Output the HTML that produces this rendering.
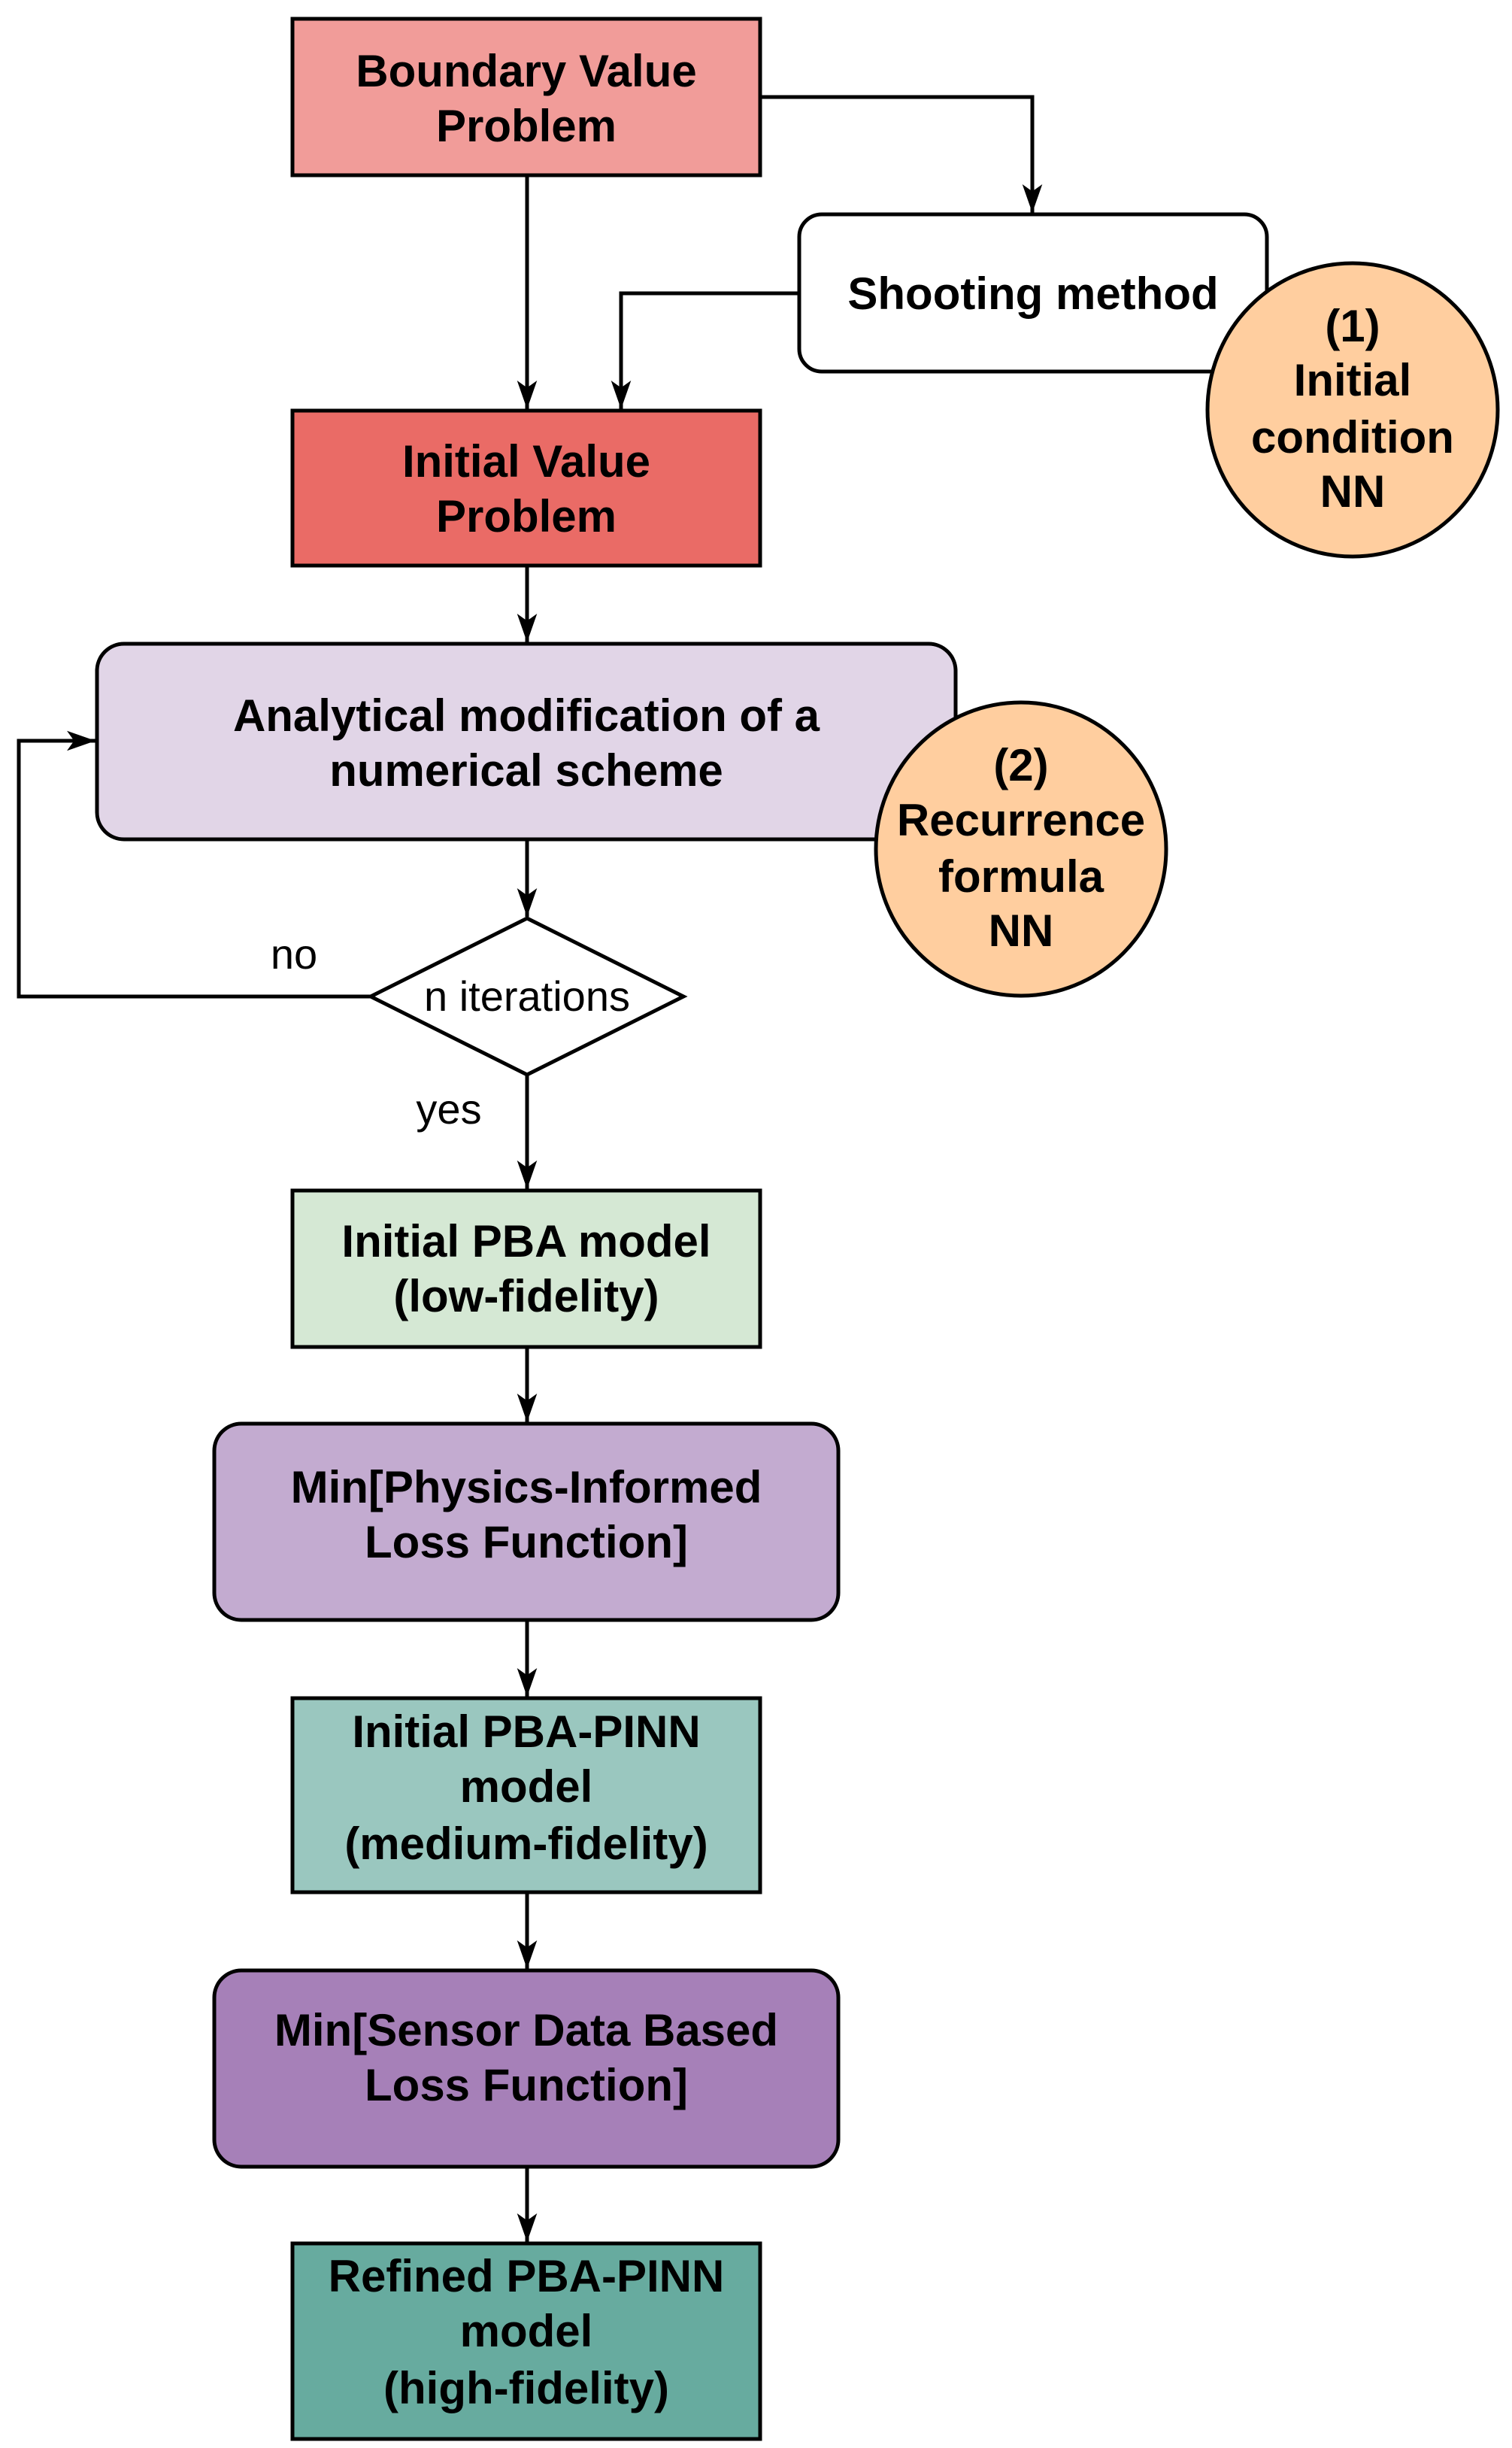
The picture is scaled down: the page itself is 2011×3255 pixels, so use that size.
<!DOCTYPE html>
<html><head><meta charset="utf-8"><style>
html,body{margin:0;padding:0;background:#fff}
svg{display:block}
text{font-family:"Liberation Sans",sans-serif;font-weight:bold;font-size:60px;text-anchor:middle;fill:#000}
.n{font-weight:normal;font-size:56px}
</style></head><body>
<svg width="2011" height="3255" viewBox="0 0 2011 3255" xmlns="http://www.w3.org/2000/svg">
<defs><marker id="a" markerWidth="38" markerHeight="28" refX="20" refY="7" orient="auto" markerUnits="userSpaceOnUse" viewBox="0 0 20 14"><path d="M0,0 L20,7 L0,14 L5,7 Z" fill="#000"/></marker></defs>
<g stroke="#000" stroke-width="5" fill="none">
<path d="M701,233 V544" marker-end="url(#a)"/>
<path d="M1011,129 H1373 V283" marker-end="url(#a)"/>
<path d="M1063,390 H826 V544" marker-end="url(#a)"/>
<path d="M701,752 V854" marker-end="url(#a)"/>
<path d="M701,1116 V1219" marker-end="url(#a)"/>
<path d="M493,1325 H25 V985 H127" marker-end="url(#a)"/>
<path d="M701,1429 V1581" marker-end="url(#a)"/>
<path d="M701,1791 V1891" marker-end="url(#a)"/>
<path d="M701,2154 V2256" marker-end="url(#a)"/>
<path d="M701,2516 V2618" marker-end="url(#a)"/>
<path d="M701,2881 V2981" marker-end="url(#a)"/>
</g>
<g stroke="#000" stroke-width="5">
<rect x="389" y="25" width="622" height="208" fill="#F19C99"/>
<rect x="1063" y="285" width="622" height="209" rx="30" fill="#fff"/>
<rect x="389" y="546" width="622" height="206" fill="#EA6B66"/>
<rect x="129" y="856" width="1142" height="260" rx="36" fill="#E1D5E7"/>
<polygon points="701,1221 909,1325 701,1429 493,1325" fill="#fff"/>
<rect x="389" y="1583" width="622" height="208" fill="#D5E8D4"/>
<rect x="285" y="1893" width="830" height="261" rx="36" fill="#C3ABD0"/>
<rect x="389" y="2258" width="622" height="258" fill="#9AC7BF"/>
<rect x="285" y="2620" width="830" height="261" rx="36" fill="#A680B8"/>
<rect x="389" y="2983" width="622" height="260" fill="#67AB9F"/>
<ellipse cx="1799" cy="545" rx="193" ry="195" fill="#FFCE9F"/>
<ellipse cx="1358" cy="1129" rx="193" ry="195" fill="#FFCE9F"/>
</g>
<text x="700" y="115">Boundary Value</text><text x="700" y="188">Problem</text>
<text x="1374" y="411">Shooting method</text>
<text x="1799" y="454">(1)</text><text x="1799" y="526">Initial</text><text x="1799" y="602">condition</text><text x="1799" y="674">NN</text>
<text x="700" y="634">Initial Value</text><text x="700" y="707">Problem</text>
<text x="700" y="972">Analytical modification of a</text><text x="700" y="1045">numerical scheme</text>
<text x="1358" y="1038">(2)</text><text x="1358" y="1111">Recurrence</text><text x="1358" y="1186">formula</text><text x="1358" y="1258">NN</text>
<text class="n" x="701" y="1344">n iterations</text>
<text class="n" x="391" y="1288">no</text>
<text class="n" x="597" y="1494">yes</text>
<text x="700" y="1671">Initial PBA model</text><text x="700" y="1744">(low-fidelity)</text>
<text x="700" y="1998">Min[Physics-Informed</text><text x="700" y="2071">Loss Function]</text>
<text x="700" y="2323">Initial PBA-PINN</text><text x="700" y="2396">model</text><text x="700" y="2472">(medium-fidelity)</text>
<text x="700" y="2720">Min[Sensor Data Based</text><text x="700" y="2793">Loss Function]</text>
<text x="700" y="3047">Refined PBA-PINN</text><text x="700" y="3120">model</text><text x="700" y="3196">(high-fidelity)</text>
</svg>
</body></html>
